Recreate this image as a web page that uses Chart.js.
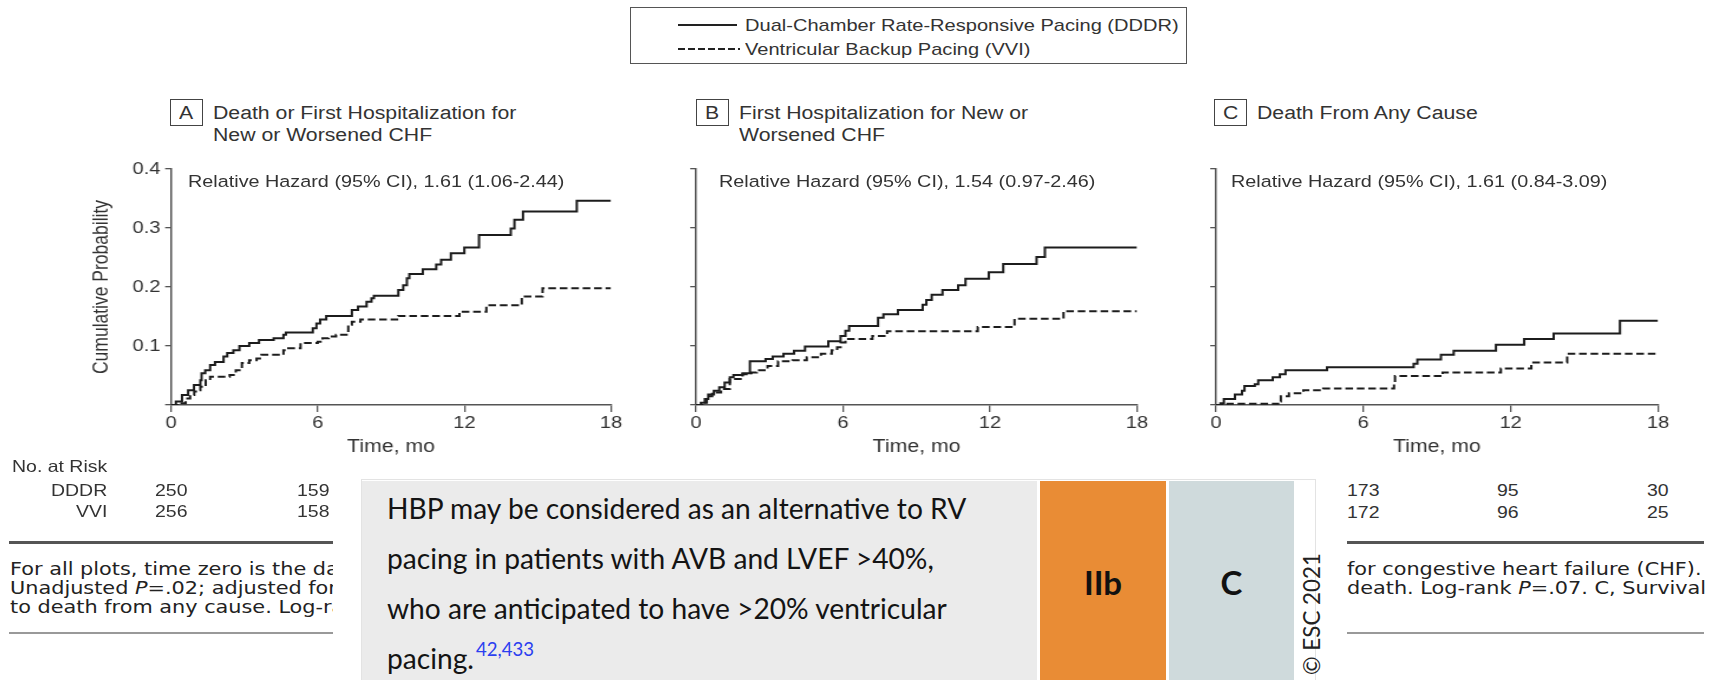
<!DOCTYPE html>
<html><head><meta charset="utf-8">
<script src="https://cdn.jsdelivr.net/npm/chart.js@4.4.0/dist/chart.umd.min.js"></script>
<style>
html,body{margin:0;padding:0;background:#fff;}
#root{position:relative;width:1717px;height:680px;overflow:hidden;background:#fff;}
canvas{position:absolute;z-index:1;}
</style></head><body><div id="root"></div>
<script>
// ---------- data ----------
const xTickValues = [0, 6, 12, 18];
const yTickValues = [0, 0.1, 0.2, 0.3, 0.4];
const yTickLabels = ['', '0.1', '0.2', '0.3', '0.4'];

// Panel A: Death or first hospitalization for new or worsened CHF
const aTimeDDDR = [0, 0.2, 0.45, 0.7, 0.94, 1.2, 1.25, 1.4, 1.6, 1.8, 2.15, 2.3, 2.55, 2.8, 3.2, 3.6, 4.2, 4.6, 4.7, 5.8, 5.95, 6.1, 6.35, 7.4, 7.65, 8.0, 8.2, 8.3, 9.3, 9.5, 9.65, 9.75, 10.3, 10.85, 11.05, 11.45, 12.0, 12.6, 13.9, 14.05, 14.4, 16.6, 18];
const aProbDDDR = [0, 0.006, 0.017, 0.025, 0.034, 0.042, 0.054, 0.059, 0.068, 0.073, 0.082, 0.088, 0.093, 0.10, 0.105, 0.11, 0.113, 0.119, 0.123, 0.13, 0.138, 0.145, 0.151, 0.161, 0.167, 0.175, 0.181, 0.185, 0.195, 0.203, 0.215, 0.222, 0.23, 0.238, 0.246, 0.257, 0.267, 0.288, 0.299, 0.314, 0.328, 0.346, 0.346];
const aTimeVVI = [0, 0.3, 0.6, 0.78, 0.95, 1.1, 1.2, 1.42, 1.6, 2.4, 2.65, 2.9, 3.2, 3.5, 3.7, 4.6, 4.8, 5.3, 6.0, 6.2, 6.45, 6.75, 7.25, 7.4, 7.75, 9.3, 11.8, 12.9, 14.35, 15.2, 18];
const aProbVVI = [0, 0.003, 0.011, 0.017, 0.023, 0.025, 0.031, 0.042, 0.048, 0.051, 0.059, 0.071, 0.076, 0.079, 0.085, 0.093, 0.096, 0.105, 0.107, 0.113, 0.116, 0.119, 0.136, 0.141, 0.145, 0.151, 0.158, 0.169, 0.184, 0.198, 0.198];

// Panel B: First hospitalization for new or worsened CHF
const bTimeDDDR = [0, 0.2, 0.36, 0.5, 0.73, 0.95, 1.17, 1.38, 1.53, 1.9, 2.2, 2.84, 3.13, 3.57, 4.0, 4.45, 5.4, 5.9, 6.1, 6.25, 7.43, 7.65, 8.24, 9.25, 9.4, 9.62, 10.06, 10.7, 11.0, 11.95, 12.54, 13.9, 14.24, 18];
const bProbDDDR = [0, 0.004, 0.01, 0.018, 0.024, 0.03, 0.038, 0.047, 0.051, 0.054, 0.074, 0.078, 0.082, 0.087, 0.092, 0.099, 0.108, 0.117, 0.126, 0.134, 0.148, 0.154, 0.161, 0.17, 0.178, 0.187, 0.195, 0.203, 0.214, 0.225, 0.239, 0.251, 0.267, 0.267];
const bTimeVVI = [0, 0.3, 0.44, 0.66, 1.02, 1.38, 1.9, 2.26, 2.48, 2.92, 3.35, 3.94, 4.52, 5.1, 5.54, 5.76, 5.9, 6.1, 7.2, 7.8, 11.5, 13.0, 15.0, 18];
const bProbVVI = [0, 0.004, 0.015, 0.021, 0.027, 0.044, 0.052, 0.055, 0.059, 0.066, 0.074, 0.076, 0.081, 0.087, 0.093, 0.098, 0.106, 0.112, 0.117, 0.125, 0.132, 0.146, 0.159, 0.159];

// Panel C: Death from any cause
const cTimeDDDR = [0, 0.18, 0.32, 0.77, 1.06, 1.16, 1.58, 1.72, 2.31, 2.6, 2.83, 4.52, 8.05, 8.2, 9.16, 9.68, 11.4, 12.55, 13.75, 16.45, 18];
const cProbDDDR = [0, 0.003, 0.01, 0.018, 0.024, 0.032, 0.035, 0.042, 0.047, 0.052, 0.059, 0.064, 0.07, 0.077, 0.085, 0.092, 0.102, 0.112, 0.121, 0.143, 0.143];
const cTimeVVI = [0, 0.47, 2.53, 2.64, 2.97, 3.56, 4.37, 7.25, 7.29, 9.23, 11.6, 12.84, 14.3, 18];
const cProbVVI = [0, 0.002, 0.006, 0.015, 0.02, 0.025, 0.028, 0.035, 0.049, 0.055, 0.062, 0.072, 0.087, 0.087];

const riskRowLabels = ['DDDR', 'VVI'];
const riskLeftDDDR = ['250', '159'];
const riskLeftVVI = ['256', '158'];
const riskRightDDDR = ['173', '95', '30'];
const riskRightVVI = ['172', '96', '25'];

// ---------- helpers ----------
const root = document.getElementById('root');
const FONT = '"Liberation Sans", Arial, Helvetica, sans-serif';
const SX = 1.18; // horizontal stretch of the source figure

function T(html, x, y, o = {}) {
  const parent = o.parent || root;
  const el = document.createElement('div');
  el.innerHTML = html;
  const size = o.size || 17;
  Object.assign(el.style, {
    position: 'absolute', whiteSpace: 'nowrap', fontFamily: o.family || FONT,
    fontSize: size + 'px', lineHeight: size + 'px', color: o.color || '#333',
    fontWeight: o.weight || 'normal', left: '0px', top: (y - size / 2) + 'px',
    transformOrigin: '0 50%', zIndex: o.z || 3
  });
  parent.appendChild(el);
  const nat = el.getBoundingClientRect().width;
  const sx = (o.sx !== undefined) ? o.sx : SX;
  el.style.transform = 'scaleX(' + sx + ')';
  const w = nat * sx;
  const left = o.align === 'right' ? x - w : (o.align === 'center' ? x - w / 2 : x);
  el.style.left = left + 'px';
  el._w = w;
  return el;
}
function box(l, t, w, h, style, parent) {
  const d = document.createElement('div');
  Object.assign(d.style, {position: 'absolute', left: l + 'px', top: t + 'px', width: w + 'px', height: h + 'px', boxSizing: 'border-box'}, style);
  (parent || root).appendChild(d);
  return d;
}
function fitSize(txt, family, weight, base, target) {
  const c = document.createElement('canvas').getContext('2d');
  c.font = weight + ' ' + base + 'px ' + family;
  return base * target / c.measureText(txt).width;
}

// ---------- charts ----------
Chart.defaults.font.family = FONT;
function panel(L, R, plotL, plotR, tD, pD, tV, pV, showY) {
  const TOP = 150, H = 310, PLOT_TOP = 169, PLOT_BOTTOM = 405;
  const cssW = R - L, w = Math.round(cssW / SX), sx = cssW / w;
  const cv = document.createElement('canvas');
  cv.width = w; cv.height = H;
  Object.assign(cv.style, {left: L + 'px', top: TOP + 'px', width: cssW + 'px', height: H + 'px'});
  root.appendChild(cv);
  const yW = (plotL - L) / sx, padR = (R - plotR) / sx;
  const axisGrid = (len) => ({drawOnChartArea: false, drawTicks: true, tickLength: len, color: '#555', lineWidth: 1.3});
  new Chart(cv, {
    type: 'line',
    data: {datasets: [
      {label: 'DDDR', data: tD.map((t, i) => ({x: t, y: pD[i]})), stepped: 'before', borderColor: '#1c1c1c', borderWidth: 2, pointRadius: 0, fill: false},
      {label: 'VVI', data: tV.map((t, i) => ({x: t, y: pV[i]})), stepped: 'before', borderColor: '#1c1c1c', borderWidth: 2, borderDash: [6.5, 3.2], pointRadius: 0, fill: false}
    ]},
    options: {
      responsive: false, animation: false, devicePixelRatio: 1,
      layout: {padding: {top: PLOT_TOP - TOP, right: padR, left: 0, bottom: 0}},
      plugins: {legend: {display: false}, tooltip: {enabled: false}},
      scales: {
        x: {type: 'linear', min: 0, max: 18,
          afterBuildTicks: s => { s.ticks = xTickValues.map(v => ({value: v})); },
          afterFit: s => { s.height = H - (PLOT_BOTTOM - TOP); },
          ticks: {color: '#333', font: {size: 17}, padding: 1, maxRotation: 0, autoSkip: false},
          grid: axisGrid(7), border: {display: true, color: '#555', width: 1.5},
          title: {display: true, text: 'Time, mo', color: '#333', font: {size: 18}, padding: {top: 0, bottom: 2}}
        },
        y: {type: 'linear', min: 0, max: 0.4,
          afterBuildTicks: s => { s.ticks = yTickValues.map(v => ({value: v})); },
          afterFit: s => { s.width = yW; },
          ticks: {display: showY, color: '#333', font: {size: 17}, padding: 4, callback: (v, i) => yTickLabels[i]},
          grid: axisGrid(5), border: {display: true, color: '#555', width: 1.5},
          title: {display: showY, text: 'Cumulative Probability', color: '#333', font: {size: 17.5}, padding: {top: 0, bottom: 0}}
        }
      }
    }
  });
}
panel(90, 640, 171, 611, aTimeDDDR, aProbDDDR, aTimeVVI, aProbVVI, true);
panel(650, 1160, 696, 1137, bTimeDDDR, bProbDDDR, bTimeVVI, bProbVVI, false);
panel(1170, 1700, 1216, 1658, cTimeDDDR, cProbDDDR, cTimeVVI, cProbVVI, false);

// ---------- legend ----------
box(630, 7, 557, 57, {border: '1px solid #555'});
box(678, 24, 59, 2, {background: '#222'});
root.insertAdjacentHTML('beforeend', '<svg style="position:absolute;left:678px;top:47px" width="62" height="4"><line x1="0" y1="2" x2="62" y2="2" stroke="#222" stroke-width="2" stroke-dasharray="7,3"/></svg>');
T('Dual-Chamber Rate-Responsive Pacing (DDDR)', 745, 25, {size: 17});
T('Ventricular Backup Pacing (VVI)', 745, 49, {size: 17});

// ---------- panel titles ----------
const titles = [
  {bx: 170, letter: 'A', tx: 213, lines: ['Death or First Hospitalization for', 'New or Worsened CHF'], hr: 'Relative Hazard (95% CI), 1.61 (1.06-2.44)', hx: 188},
  {bx: 696, letter: 'B', tx: 739, lines: ['First Hospitalization for New or', 'Worsened CHF'], hr: 'Relative Hazard (95% CI), 1.54 (0.97-2.46)', hx: 719},
  {bx: 1214, letter: 'C', tx: 1257, lines: ['Death From Any Cause'], hr: 'Relative Hazard (95% CI), 1.61 (0.84-3.09)', hx: 1231}
];
titles.forEach(tt => {
  box(tt.bx, 99, 33, 27, {border: '1px solid #444'});
  T(tt.letter, tt.bx + 16.5, 112.5, {size: 18, align: 'center'});
  tt.lines.forEach((ln, i) => T(ln, tt.tx, 113 + i * 22, {size: 18}));
  T(tt.hr, tt.hx, 182, {size: 16.8});
});

// ---------- risk table ----------
T('No. at Risk', 12, 466, {size: 16.5});
T(riskRowLabels[0], 107, 490, {size: 16.5, align: 'right'});
T(riskRowLabels[1], 107, 511, {size: 16.5, align: 'right'});
const leftCols = [155, 297], rightCols = [1347, 1497, 1647];
riskLeftDDDR.forEach((v, i) => T(v, leftCols[i], 490, {size: 16.5}));
riskLeftVVI.forEach((v, i) => T(v, leftCols[i], 511, {size: 16.5}));
riskRightDDDR.forEach((v, i) => T(v, rightCols[i], 490, {size: 16.5}));
riskRightVVI.forEach((v, i) => T(v, rightCols[i], 512, {size: 16.5}));

// ---------- rules and caption ----------
box(9, 541, 324, 3, {background: '#555'});
box(1347, 541, 357, 3, {background: '#555'});
box(9, 632, 324, 2, {background: '#999'});
box(1347, 632, 357, 2, {background: '#999'});
const CAP = '"DejaVu Sans", Verdana, sans-serif';
const capL = box(10, 540, 323, 80, {overflow: 'hidden'});
['For all plots, time zero is the date', 'Unadjusted <i>P</i>=.02; adjusted for', 'to death from any cause. Log-rank'].forEach((s, i) =>
  T(s, 0, 29 + i * 19, {parent: capL, size: 16.8, family: CAP, color: '#222', sx: 1.24}));
const capR = box(1347, 540, 370, 80, {overflow: 'hidden'});
['for congestive heart failure (CHF).', 'death. Log-rank <i>P</i>=.07. C, Survival'].forEach((s, i) =>
  T(s, 0, 29 + i * 19, {parent: capR, size: 16.8, family: CAP, color: '#222', sx: 1.24}));

// ---------- recommendation overlay ----------
box(333, 462, 1012, 218, {background: '#fff', zIndex: 5});
box(361, 479, 955, 210, {borderTop: '1px solid #e3e3e3', borderLeft: '1px solid #e3e3e3', borderRight: '1px solid #e3e3e3', zIndex: 6});
box(362, 481, 675, 199, {background: '#ebebeb', zIndex: 7});
box(1040, 481, 126, 199, {background: '#e98c35', zIndex: 7});
box(1169, 481, 125, 199, {background: '#cfdadc', zIndex: 7});
const LATO = 'Lato, "Open Sans", sans-serif';
const recLines = ['HBP may be considered as an alternative to RV', 'pacing in patients with AVB and LVEF >40%,', 'who are anticipated to have >20% ventricular', 'pacing.'];
const recSize = fitSize(recLines[0], LATO, 'normal', 31, 581);
let lastEl;
recLines.forEach((s, i) => { lastEl = T(s.replace(/>/g, '&gt;'), 387, 508 + i * 50, {size: recSize, family: LATO, color: '#141414', sx: 1, z: 8}); });
T('42,433', 387 + lastEl._w + 2, 649, {size: recSize * 0.66, family: LATO, color: '#2b3ff0', sx: 1, z: 8});
T('IIb', 1103, 582, {size: 33, family: LATO, weight: 700, color: '#111', sx: 1, z: 8, align: 'center'});
T('C', 1231.5, 582, {size: 33, family: LATO, weight: 700, color: '#111', sx: 1, z: 8, align: 'center'});
const cs = fitSize('© ESC 2021', LATO, 'normal', 25, 122);
const cp = document.createElement('div');
cp.textContent = '© ESC 2021';
Object.assign(cp.style, {position: 'absolute', left: '1312px', top: '614px', whiteSpace: 'nowrap', fontFamily: LATO, fontSize: cs + 'px', lineHeight: cs + 'px', color: '#222', transform: 'translate(-50%,-50%) rotate(-90deg)', zIndex: 8});
root.appendChild(cp);
</script></body></html>
